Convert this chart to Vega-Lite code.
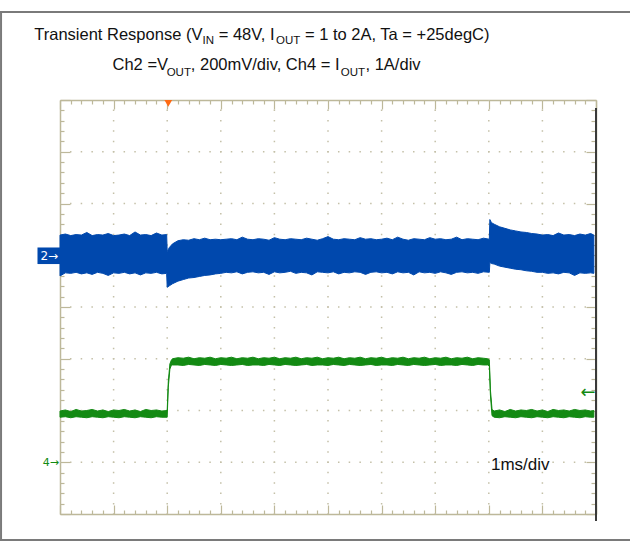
{
  "$schema": "https://vega.github.io/schema/vega-lite/v6.json",
  "width": 536,
  "height": 414,
  "autosize": "none",
  "padding": {"left": 60, "top": 100, "right": 34, "bottom": 27},
  "background": "white",
  "view": {"stroke": null},
  "config": {"font": "Liberation Sans"},
  "datasets": {
    "vgrid": [{"t":1},{"t":2},{"t":3},{"t":4},{"t":5},{"t":6},{"t":7},{"t":8},{"t":9}],
    "hgrid": [{"d":1},{"d":2},{"d":3},{"d":4},{"d":5},{"d":6},{"d":7}],
    "blue": [
      {"t":0.0,"hi":5.39,"lo":4.60},{"t":0.1,"hi":5.41,"lo":4.66},{"t":0.2,"hi":5.38,"lo":4.65},{"t":0.3,"hi":5.40,"lo":4.67},
      {"t":0.4,"hi":5.39,"lo":4.64},{"t":0.5,"hi":5.44,"lo":4.66},{"t":0.6,"hi":5.38,"lo":4.63},{"t":0.7,"hi":5.40,"lo":4.67},
      {"t":0.8,"hi":5.39,"lo":4.65},{"t":0.9,"hi":5.42,"lo":4.61},{"t":1.0,"hi":5.38,"lo":4.66},{"t":1.1,"hi":5.39,"lo":4.65},
      {"t":1.2,"hi":5.41,"lo":4.67},{"t":1.3,"hi":5.38,"lo":4.64},{"t":1.4,"hi":5.45,"lo":4.66},{"t":1.5,"hi":5.39,"lo":4.62},
      {"t":1.6,"hi":5.40,"lo":4.66},{"t":1.7,"hi":5.38,"lo":4.65},{"t":1.8,"hi":5.43,"lo":4.67},{"t":1.9,"hi":5.39,"lo":4.64},
      {"t":1.99,"hi":5.40,"lo":4.65},{"t":2.0,"hi":5.07,"lo":4.38},{"t":2.04,"hi":5.15,"lo":4.41},{"t":2.1,"hi":5.22,"lo":4.45},
      {"t":2.2,"hi":5.28,"lo":4.50},{"t":2.3,"hi":5.30,"lo":4.53},{"t":2.4,"hi":5.29,"lo":4.56},{"t":2.5,"hi":5.32,"lo":4.57},
      {"t":2.6,"hi":5.30,"lo":4.59},{"t":2.7,"hi":5.33,"lo":4.61},{"t":2.8,"hi":5.30,"lo":4.62},{"t":2.9,"hi":5.31,"lo":4.64},
      {"t":3.0,"hi":5.30,"lo":4.65},{"t":3.1,"hi":5.31,"lo":4.67},{"t":3.2,"hi":5.32,"lo":4.66},{"t":3.3,"hi":5.30,"lo":4.68},
      {"t":3.4,"hi":5.35,"lo":4.64},{"t":3.5,"hi":5.31,"lo":4.67},{"t":3.6,"hi":5.30,"lo":4.68},{"t":3.7,"hi":5.32,"lo":4.66},
      {"t":3.8,"hi":5.31,"lo":4.67},{"t":3.9,"hi":5.29,"lo":4.63},{"t":4.0,"hi":5.34,"lo":4.68},{"t":4.1,"hi":5.31,"lo":4.66},
      {"t":4.2,"hi":5.30,"lo":4.67},{"t":4.3,"hi":5.32,"lo":4.69},{"t":4.4,"hi":5.31,"lo":4.65},{"t":4.5,"hi":5.30,"lo":4.67},
      {"t":4.6,"hi":5.33,"lo":4.66},{"t":4.7,"hi":5.31,"lo":4.62},{"t":4.8,"hi":5.29,"lo":4.68},{"t":4.9,"hi":5.32,"lo":4.67},
      {"t":5.0,"hi":5.36,"lo":4.66},{"t":5.1,"hi":5.31,"lo":4.68},{"t":5.2,"hi":5.30,"lo":4.64},{"t":5.3,"hi":5.32,"lo":4.67},
      {"t":5.4,"hi":5.31,"lo":4.66},{"t":5.5,"hi":5.30,"lo":4.68},{"t":5.6,"hi":5.34,"lo":4.67},{"t":5.7,"hi":5.31,"lo":4.63},
      {"t":5.8,"hi":5.32,"lo":4.67},{"t":5.9,"hi":5.30,"lo":4.68},{"t":6.0,"hi":5.31,"lo":4.66},{"t":6.1,"hi":5.33,"lo":4.67},
      {"t":6.2,"hi":5.30,"lo":4.64},{"t":6.3,"hi":5.35,"lo":4.68},{"t":6.4,"hi":5.31,"lo":4.66},{"t":6.5,"hi":5.29,"lo":4.67},
      {"t":6.6,"hi":5.32,"lo":4.62},{"t":6.7,"hi":5.31,"lo":4.68},{"t":6.8,"hi":5.30,"lo":4.66},{"t":6.9,"hi":5.34,"lo":4.67},
      {"t":7.0,"hi":5.31,"lo":4.65},{"t":7.1,"hi":5.32,"lo":4.68},{"t":7.2,"hi":5.30,"lo":4.66},{"t":7.3,"hi":5.31,"lo":4.63},
      {"t":7.4,"hi":5.35,"lo":4.67},{"t":7.5,"hi":5.30,"lo":4.68},{"t":7.6,"hi":5.32,"lo":4.66},{"t":7.7,"hi":5.31,"lo":4.67},
      {"t":7.8,"hi":5.30,"lo":4.65},{"t":7.9,"hi":5.33,"lo":4.68},{"t":8.01,"hi":5.31,"lo":4.67},{"t":8.02,"hi":5.69,"lo":4.86},
      {"t":8.05,"hi":5.63,"lo":4.84},{"t":8.1,"hi":5.60,"lo":4.83},{"t":8.2,"hi":5.55,"lo":4.79},{"t":8.3,"hi":5.52,"lo":4.77},
      {"t":8.4,"hi":5.49,"lo":4.75},{"t":8.5,"hi":5.47,"lo":4.73},{"t":8.6,"hi":5.45,"lo":4.72},{"t":8.7,"hi":5.44,"lo":4.70},
      {"t":8.8,"hi":5.42,"lo":4.69},{"t":8.9,"hi":5.41,"lo":4.67},{"t":9.0,"hi":5.39,"lo":4.67},{"t":9.1,"hi":5.40,"lo":4.65},
      {"t":9.2,"hi":5.38,"lo":4.66},{"t":9.3,"hi":5.43,"lo":4.64},{"t":9.4,"hi":5.39,"lo":4.67},{"t":9.5,"hi":5.40,"lo":4.66},
      {"t":9.6,"hi":5.38,"lo":4.61},{"t":9.7,"hi":5.41,"lo":4.66},{"t":9.8,"hi":5.39,"lo":4.65},{"t":9.9,"hi":5.42,"lo":4.66},
      {"t":9.96,"hi":5.39,"lo":4.65}
    ],
    "green": [
      {"t":0.0,"hi":1.99,"lo":1.87},{"t":0.1,"hi":2.01,"lo":1.88},{"t":0.2,"hi":1.98,"lo":1.86},{"t":0.3,"hi":2.02,"lo":1.88},
      {"t":0.4,"hi":1.99,"lo":1.87},{"t":0.5,"hi":2.00,"lo":1.86},{"t":0.6,"hi":2.02,"lo":1.88},{"t":0.7,"hi":1.99,"lo":1.87},
      {"t":0.8,"hi":2.01,"lo":1.86},{"t":0.9,"hi":1.98,"lo":1.88},{"t":1.0,"hi":2.01,"lo":1.87},{"t":1.1,"hi":2.00,"lo":1.86},
      {"t":1.2,"hi":2.02,"lo":1.88},{"t":1.3,"hi":1.99,"lo":1.87},{"t":1.4,"hi":2.01,"lo":1.86},{"t":1.5,"hi":1.98,"lo":1.88},
      {"t":1.6,"hi":2.02,"lo":1.87},{"t":1.7,"hi":2.00,"lo":1.86},{"t":1.8,"hi":2.01,"lo":1.88},{"t":1.9,"hi":1.99,"lo":1.87},
      {"t":2.0,"hi":2.00,"lo":1.87},{"t":2.02,"hi":2.55,"lo":2.45},{"t":2.05,"hi":2.90,"lo":2.80},{"t":2.08,"hi":2.98,"lo":2.88},
      {"t":2.1,"hi":3.00,"lo":2.88},{"t":2.2,"hi":3.02,"lo":2.88},{"t":2.3,"hi":3.01,"lo":2.87},{"t":2.4,"hi":3.03,"lo":2.89},
      {"t":2.5,"hi":3.00,"lo":2.88},{"t":2.6,"hi":3.02,"lo":2.87},{"t":2.7,"hi":3.01,"lo":2.89},{"t":2.8,"hi":3.03,"lo":2.88},
      {"t":2.9,"hi":3.00,"lo":2.87},{"t":3.0,"hi":3.02,"lo":2.89},{"t":3.1,"hi":3.01,"lo":2.88},{"t":3.2,"hi":3.03,"lo":2.87},
      {"t":3.3,"hi":3.00,"lo":2.88},{"t":3.4,"hi":3.02,"lo":2.89},{"t":3.5,"hi":3.01,"lo":2.87},{"t":3.6,"hi":3.03,"lo":2.88},
      {"t":3.7,"hi":3.00,"lo":2.88},{"t":3.8,"hi":3.02,"lo":2.87},{"t":3.9,"hi":3.01,"lo":2.89},{"t":4.0,"hi":3.03,"lo":2.88},
      {"t":4.1,"hi":3.00,"lo":2.87},{"t":4.2,"hi":3.02,"lo":2.89},{"t":4.3,"hi":3.01,"lo":2.88},{"t":4.4,"hi":3.03,"lo":2.87},
      {"t":4.5,"hi":3.00,"lo":2.88},{"t":4.6,"hi":3.02,"lo":2.89},{"t":4.7,"hi":3.01,"lo":2.87},{"t":4.8,"hi":3.03,"lo":2.88},
      {"t":4.9,"hi":3.00,"lo":2.88},{"t":5.0,"hi":3.02,"lo":2.87},{"t":5.1,"hi":3.01,"lo":2.89},{"t":5.2,"hi":3.03,"lo":2.88},
      {"t":5.3,"hi":3.00,"lo":2.87},{"t":5.4,"hi":3.02,"lo":2.89},{"t":5.5,"hi":3.01,"lo":2.88},{"t":5.6,"hi":3.03,"lo":2.87},
      {"t":5.7,"hi":3.00,"lo":2.88},{"t":5.8,"hi":3.02,"lo":2.89},{"t":5.9,"hi":3.01,"lo":2.87},{"t":6.0,"hi":3.03,"lo":2.88},
      {"t":6.1,"hi":3.00,"lo":2.88},{"t":6.2,"hi":3.02,"lo":2.87},{"t":6.3,"hi":3.01,"lo":2.89},{"t":6.4,"hi":3.03,"lo":2.88},
      {"t":6.5,"hi":3.00,"lo":2.87},{"t":6.6,"hi":3.02,"lo":2.89},{"t":6.7,"hi":3.01,"lo":2.88},{"t":6.8,"hi":3.03,"lo":2.87},
      {"t":6.9,"hi":3.00,"lo":2.88},{"t":7.0,"hi":3.02,"lo":2.89},{"t":7.1,"hi":3.01,"lo":2.87},{"t":7.2,"hi":3.03,"lo":2.88},
      {"t":7.3,"hi":3.00,"lo":2.88},{"t":7.4,"hi":3.02,"lo":2.87},{"t":7.5,"hi":3.01,"lo":2.89},{"t":7.6,"hi":3.03,"lo":2.88},
      {"t":7.7,"hi":3.00,"lo":2.87},{"t":7.8,"hi":3.02,"lo":2.89},{"t":7.9,"hi":3.01,"lo":2.88},{"t":7.98,"hi":3.00,"lo":2.88},
      {"t":8.01,"hi":2.98,"lo":2.86},{"t":8.03,"hi":2.40,"lo":2.30},{"t":8.06,"hi":2.02,"lo":1.90},{"t":8.1,"hi":1.99,"lo":1.87},
      {"t":8.2,"hi":2.01,"lo":1.86},{"t":8.3,"hi":1.98,"lo":1.88},{"t":8.4,"hi":2.02,"lo":1.87},{"t":8.5,"hi":1.99,"lo":1.86},
      {"t":8.6,"hi":2.01,"lo":1.88},{"t":8.7,"hi":2.00,"lo":1.87},{"t":8.8,"hi":2.02,"lo":1.86},{"t":8.9,"hi":1.99,"lo":1.88},
      {"t":9.0,"hi":2.01,"lo":1.87},{"t":9.1,"hi":1.98,"lo":1.86},{"t":9.2,"hi":2.02,"lo":1.88},{"t":9.3,"hi":2.00,"lo":1.87},
      {"t":9.4,"hi":2.01,"lo":1.86},{"t":9.5,"hi":1.99,"lo":1.88},{"t":9.6,"hi":2.02,"lo":1.87},{"t":9.7,"hi":2.00,"lo":1.86},
      {"t":9.8,"hi":2.01,"lo":1.88},{"t":9.9,"hi":1.99,"lo":1.87},{"t":9.96,"hi":2.00,"lo":1.87}
    ],
    "border": [
      {"x":-1.13,"x2":10.65,"y":9.70,"y2":9.70},
      {"x":-1.10,"x2":-1.10,"y":9.70,"y2":-0.53},
      {"x":-1.13,"x2":10.65,"y":-0.50,"y2":-0.50}
    ],
    "edge": [{"t":10,"a":-0.135,"b":7.845}],
    "tag": [{"t":-0.42,"t2":0,"a":4.83,"b":5.15}],
    "tagtext": [{"t":-0.2,"y":4.99,"s":"2→"}],
    "gtext": [{"t":-0.17,"y":0.99,"s":"4→"}],
    "garrow": [{"t":9.85,"y":2.34,"s":"←"}],
    "trig": [{"t":2.02,"y":7.935}],
    "title": [
      {"t":-0.480,"y":9.159,"s":"Transient Response (V","k":"m"},
      {"t":2.660,"y":9.082,"s":"IN","k":"s"},
      {"t":2.960,"y":9.159,"s":"= 48V, I","k":"m"},
      {"t":4.030,"y":9.082,"s":"OUT","k":"s"},
      {"t":4.570,"y":9.159,"s":"= 1 to 2A, Ta = +25degC)","k":"m"},
      {"t":0.980,"y":8.580,"s":"Ch2 =V","k":"m"},
      {"t":1.990,"y":8.459,"s":"OUT","k":"s"},
      {"t":2.440,"y":8.580,"s":", 200mV/div, Ch4 = I","k":"m"},
      {"t":5.240,"y":8.459,"s":"OUT","k":"s"},
      {"t":5.700,"y":8.580,"s":", 1A/div","k":"m"},
      {"t":8.041,"y":0.850,"s":"1ms/div","k":"b"}
    ]
  },
  "resolve": {"axis": {"x": "independent", "y": "independent"}},
  "layer": [
    {
      "data": {"name": "vgrid"},
      "mark": {"type": "rule", "color": "#c4c0a8", "strokeWidth": 1.5, "strokeDash": [1.5, 8.85], "strokeDashOffset": 0.75},
      "encoding": {
        "x": {"field": "t", "type": "quantitative", "scale": {"domain": [0, 10], "nice": false, "zero": false}, "axis": null},
        "y": {"datum": 0, "type": "quantitative", "scale": {"domain": [0, 8], "nice": false, "zero": false}, "axis": null},
        "y2": {"datum": 8}
      }
    },
    {
      "data": {"name": "hgrid"},
      "mark": {"type": "rule", "color": "#c4c0a8", "strokeWidth": 1.5, "strokeDash": [1.5, 9.22], "strokeDashOffset": 0.75},
      "encoding": {
        "x": {"datum": 0, "type": "quantitative", "scale": {"domain": [0, 10], "nice": false, "zero": false}, "axis": null},
        "x2": {"datum": 10},
        "y": {"field": "d", "type": "quantitative", "scale": {"domain": [0, 8], "nice": false, "zero": false}, "axis": null}
      }
    },
    {
      "data": {"name": "blue"},
      "mark": {"type": "area", "color": "#0048ad", "stroke": "#0048ad", "strokeWidth": 1},
      "encoding": {
        "x": {"field": "t", "type": "quantitative", "scale": {"domain": [0, 10], "nice": false, "zero": false},
          "axis": {"orient": "bottom", "values": [0,0.2,0.4,0.6,0.8,1,1.2,1.4,1.6,1.8,2,2.2,2.4,2.6,2.8,3,3.2,3.4,3.6,3.8,4,4.2,4.4,4.6,4.8,5,5.2,5.4,5.6,5.8,6,6.2,6.4,6.6,6.8,7,7.2,7.4,7.6,7.8,8,8.2,8.4,8.6,8.8,9,9.2,9.4,9.6,9.8,10],
            "labels": false, "title": null, "grid": false, "domainColor": "#bdb89a", "domainWidth": 1.5, "tickColor": "#bdb89a", "tickWidth": 1.2,
            "tickSize": {"condition": {"test": "abs(datum.value - round(datum.value)) < 0.01", "value": -9}, "value": -4}}},
        "y": {"field": "hi", "type": "quantitative", "scale": {"domain": [0, 8], "nice": false, "zero": false},
          "axis": {"orient": "left", "values": [0,0.2,0.4,0.6,0.8,1,1.2,1.4,1.6,1.8,2,2.2,2.4,2.6,2.8,3,3.2,3.4,3.6,3.8,4,4.2,4.4,4.6,4.8,5,5.2,5.4,5.6,5.8,6,6.2,6.4,6.6,6.8,7,7.2,7.4,7.6,7.8,8],
            "labels": false, "title": null, "grid": false, "domainColor": "#bdb89a", "domainWidth": 1.5, "tickColor": "#bdb89a", "tickWidth": 1.2,
            "tickSize": {"condition": {"test": "abs(datum.value - round(datum.value)) < 0.01", "value": -10}, "value": -4}}},
        "y2": {"field": "lo"}
      }
    },
    {
      "data": {"name": "green"},
      "mark": {"type": "area", "color": "#138a13", "stroke": "#138a13", "strokeWidth": 1},
      "encoding": {
        "x": {"field": "t", "type": "quantitative", "scale": {"domain": [0, 10], "nice": false, "zero": false},
          "axis": {"orient": "top", "values": [0,0.2,0.4,0.6,0.8,1,1.2,1.4,1.6,1.8,2,2.2,2.4,2.6,2.8,3,3.2,3.4,3.6,3.8,4,4.2,4.4,4.6,4.8,5,5.2,5.4,5.6,5.8,6,6.2,6.4,6.6,6.8,7,7.2,7.4,7.6,7.8,8,8.2,8.4,8.6,8.8,9,9.2,9.4,9.6,9.8,10],
            "labels": false, "title": null, "grid": false, "domainColor": "#bdb89a", "domainWidth": 1.5, "tickColor": "#bdb89a", "tickWidth": 1.2,
            "tickSize": {"condition": {"test": "abs(datum.value - round(datum.value)) < 0.01", "value": -9}, "value": -4}}},
        "y": {"field": "hi", "type": "quantitative", "scale": {"domain": [0, 8], "nice": false, "zero": false},
          "axis": {"orient": "right", "values": [0,0.2,0.4,0.6,0.8,1,1.2,1.4,1.6,1.8,2,2.2,2.4,2.6,2.8,3,3.2,3.4,3.6,3.8,4,4.2,4.4,4.6,4.8,5,5.2,5.4,5.6,5.8,6,6.2,6.4,6.6,6.8,7,7.2,7.4,7.6,7.8,8],
            "labels": false, "title": null, "grid": false, "domainColor": "#bdb89a", "domainWidth": 1.5, "tickColor": "#bdb89a", "tickWidth": 1.2,
            "tickSize": {"condition": {"test": "abs(datum.value - round(datum.value)) < 0.01", "value": -10}, "value": -5}}},
        "y2": {"field": "lo"}
      }
    },
    {
      "data": {"name": "edge"},
      "mark": {"type": "rule", "color": "#3a3a3a", "strokeWidth": 2},
      "encoding": {
        "x": {"field": "t", "type": "quantitative", "scale": {"domain": [0, 10], "nice": false, "zero": false}, "axis": null},
        "y": {"field": "a", "type": "quantitative", "scale": {"domain": [0, 8], "nice": false, "zero": false}, "axis": null},
        "y2": {"field": "b"}
      }
    },
    {
      "data": {"name": "border"},
      "mark": {"type": "rule", "color": "#7a7a7a", "strokeWidth": 2},
      "encoding": {
        "x": {"field": "x", "type": "quantitative", "scale": {"domain": [0, 10], "nice": false, "zero": false}, "axis": null},
        "x2": {"field": "x2"},
        "y": {"field": "y", "type": "quantitative", "scale": {"domain": [0, 8], "nice": false, "zero": false}, "axis": null},
        "y2": {"field": "y2"}
      }
    },
    {
      "data": {"name": "tag"},
      "mark": {"type": "rect", "color": "#0048ad"},
      "encoding": {
        "x": {"field": "t", "type": "quantitative", "scale": {"domain": [0, 10], "nice": false, "zero": false}, "axis": null},
        "x2": {"field": "t2"},
        "y": {"field": "a", "type": "quantitative", "scale": {"domain": [0, 8], "nice": false, "zero": false}, "axis": null},
        "y2": {"field": "b"}
      }
    },
    {
      "data": {"name": "tagtext"},
      "mark": {"type": "text", "color": "white", "fontSize": 12, "font": "DejaVu Sans", "align": "center", "baseline": "middle"},
      "encoding": {
        "x": {"field": "t", "type": "quantitative", "scale": {"domain": [0, 10], "nice": false, "zero": false}, "axis": null},
        "y": {"field": "y", "type": "quantitative", "scale": {"domain": [0, 8], "nice": false, "zero": false}, "axis": null},
        "text": {"field": "s"}
      }
    },
    {
      "data": {"name": "gtext"},
      "mark": {"type": "text", "color": "#138a13", "fontSize": 11, "font": "DejaVu Sans", "align": "center", "baseline": "middle"},
      "encoding": {
        "x": {"field": "t", "type": "quantitative", "scale": {"domain": [0, 10], "nice": false, "zero": false}, "axis": null},
        "y": {"field": "y", "type": "quantitative", "scale": {"domain": [0, 8], "nice": false, "zero": false}, "axis": null},
        "text": {"field": "s"}
      }
    },
    {
      "data": {"name": "garrow"},
      "mark": {"type": "text", "color": "#138a13", "fontSize": 18, "font": "DejaVu Sans", "align": "center", "baseline": "middle"},
      "encoding": {
        "x": {"field": "t", "type": "quantitative", "scale": {"domain": [0, 10], "nice": false, "zero": false}, "axis": null},
        "y": {"field": "y", "type": "quantitative", "scale": {"domain": [0, 8], "nice": false, "zero": false}, "axis": null},
        "text": {"field": "s"}
      }
    },
    {
      "data": {"name": "trig"},
      "mark": {"type": "point", "shape": "triangle-down", "filled": true, "color": "#ff6a13", "size": 60, "opacity": 1},
      "encoding": {
        "x": {"field": "t", "type": "quantitative", "scale": {"domain": [0, 10], "nice": false, "zero": false}, "axis": null},
        "y": {"field": "y", "type": "quantitative", "scale": {"domain": [0, 8], "nice": false, "zero": false}, "axis": null}
      }
    },
    {
      "data": {"name": "title"},
      "transform": [{"filter": "datum.k == 'm'"}],
      "mark": {"type": "text", "color": "#111111", "fontSize": 16.5, "align": "left", "baseline": "alphabetic"},
      "encoding": {
        "x": {"field": "t", "type": "quantitative", "scale": {"domain": [0, 10], "nice": false, "zero": false}, "axis": null},
        "y": {"field": "y", "type": "quantitative", "scale": {"domain": [0, 8], "nice": false, "zero": false}, "axis": null},
        "text": {"field": "s"}
      }
    },
    {
      "data": {"name": "title"},
      "transform": [{"filter": "datum.k == 's'"}],
      "mark": {"type": "text", "color": "#111111", "fontSize": 11.5, "align": "left", "baseline": "alphabetic"},
      "encoding": {
        "x": {"field": "t", "type": "quantitative", "scale": {"domain": [0, 10], "nice": false, "zero": false}, "axis": null},
        "y": {"field": "y", "type": "quantitative", "scale": {"domain": [0, 8], "nice": false, "zero": false}, "axis": null},
        "text": {"field": "s"}
      }
    },
    {
      "data": {"name": "title"},
      "transform": [{"filter": "datum.k == 'b'"}],
      "mark": {"type": "text", "color": "#111111", "fontSize": 17, "align": "left", "baseline": "alphabetic"},
      "encoding": {
        "x": {"field": "t", "type": "quantitative", "scale": {"domain": [0, 10], "nice": false, "zero": false}, "axis": null},
        "y": {"field": "y", "type": "quantitative", "scale": {"domain": [0, 8], "nice": false, "zero": false}, "axis": null},
        "text": {"field": "s"}
      }
    }
  ]
}
